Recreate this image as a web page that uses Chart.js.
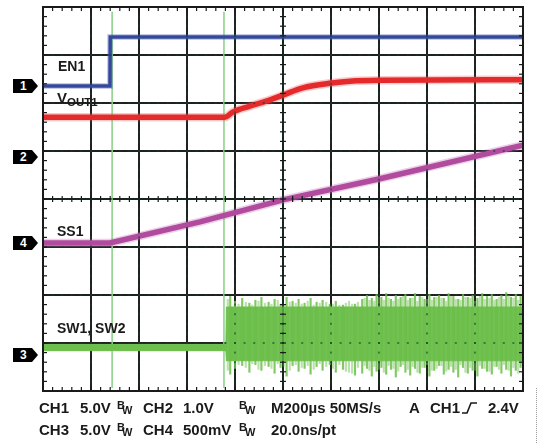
<!DOCTYPE html>
<html>
<head>
<meta charset="utf-8">
<script src="https://cdn.jsdelivr.net/npm/chart.js@4.4.1/dist/chart.umd.min.js"></script>
<style>
  body { margin: 0; background: #fff; }
  #wrap { position: relative; width: 538px; height: 443px; overflow: hidden;
          font-family: "Liberation Sans", Arial, sans-serif; font-weight: bold; color: #1a1a1a; }
  #scope { position: absolute; left: 0; top: 0; }
  .lbl { position: absolute; font-size: 14px; line-height: 14px; white-space: nowrap; }
  .st { position: absolute; font-size: 15px; line-height: 15px; white-space: nowrap; }
  .bw { position: absolute; font-size: 11px; line-height: 11px; }
  .mk { position: absolute; left: 13px; width: 25px; height: 14px; background: #000; color: #fff;
        font-size: 12px; line-height: 14px; text-indent: 7px;
        clip-path: polygon(0 0, 76% 0, 100% 50%, 76% 100%, 0 100%); }
  #fig { position: absolute; left: 536px; top: 388px; height: 55px; border-left: 1px dotted #9a9a9a; }
</style>
</head>
<body>
<div id="wrap">
  <canvas id="scope" width="538" height="443"></canvas>

  <div class="lbl" style="left:58px;top:59px">EN1</div>
  <div class="lbl" style="left:57px;top:91px;font-size:15px">V<span style="font-size:11.5px;position:relative;top:3px">OUT1</span></div>
  <div class="lbl" style="left:57px;top:224px">SS1</div>
  <div class="lbl" style="left:57px;top:321px">SW1, SW2</div>

  <div class="st" style="left:39px;top:400px">CH1</div>
  <div class="st" style="left:80px;top:400px">5.0V</div>
  <div class="bw" style="left:117px;top:400px">B</div><div class="bw" style="left:122px;top:405px">W</div>
  <div class="st" style="left:143px;top:400px">CH2</div>
  <div class="st" style="left:183px;top:400px">1.0V</div>
  <div class="bw" style="left:239px;top:400px">B</div><div class="bw" style="left:245px;top:405px">W</div>
  <div class="st" style="left:271px;top:400px">M200µs 50MS/s</div>
  <div class="st" style="left:409px;top:400px">A</div>
  <div class="st" style="left:430px;top:400px">CH1</div>
  <svg style="position:absolute;left:461px;top:401px" width="18" height="14">
    <polyline points="1,12 6,12 10,2 16,2" fill="none" stroke="#1a1a1a" stroke-width="1.6"/>
  </svg>
  <div class="st" style="left:488px;top:400px">2.4V</div>

  <div class="st" style="left:39px;top:422px">CH3</div>
  <div class="st" style="left:80px;top:422px">5.0V</div>
  <div class="bw" style="left:117px;top:422px">B</div><div class="bw" style="left:122px;top:427px">W</div>
  <div class="st" style="left:143px;top:422px">CH4</div>
  <div class="st" style="left:183px;top:422px">500mV</div>
  <div class="bw" style="left:239px;top:422px">B</div><div class="bw" style="left:245px;top:427px">W</div>
  <div class="st" style="left:271px;top:422px">20.0ns/pt</div>

  <div id="fig"></div>
</div>

<script>
// scope settings
const channelNames = ['CH1', 'CH2', 'CH3', 'CH4'];
const voltsPerDiv = [5.0, 1.0, 5.0, 0.5];
const channelOffsetDiv = [6.354, 4.875, 0.75, 3.083];   // ground marker, divisions from bottom
const markerOrder = ['1', '2', '4', '3'];

// time axis: 200us/div, 10 div
const timeMin = 0, timeMax = 2000;
const cursorTimes = [288, 754];

// CH1  EN1
const en1Time = [0, 279, 280, 2000];
const en1Volts = [0, 0, 5.1, 5.1];

// CH2  VOUT1
const vout1Time = [0, 758, 792, 862, 946, 1000, 1083, 1204, 1279, 1404, 2000];
const vout1Volts = [0.83, 0.83, 0.94, 1.06, 1.19, 1.29, 1.44, 1.54, 1.58, 1.60, 1.61];

// CH4  SS1
const ss1Time = [0, 279, 654, 1000, 1404, 2000];
const ss1Volts = [0, 0, 0.22, 0.45, 0.67, 1.02];

// CH3  SW1, SW2 envelope
const swTime = [0, 762, 764, 2000];
const swHigh = [1.1, 1.1, 5.0, 5.0];
const swLow = [0.45, 0.45, -0.6, -0.6];

// CH3 spikes (strong)
const spikeTime = [780, 800, 830, 860, 885, 910, 940, 965, 990, 1015, 1040, 1065, 1090, 1115, 1140,
  1165, 1195, 1220, 1250, 1300, 1330, 1350, 1370, 1390, 1410, 1430, 1450, 1470, 1490, 1510, 1530,
  1550, 1570, 1590, 1610, 1630, 1650, 1670, 1690, 1710, 1730, 1750, 1770, 1790, 1810, 1830, 1850,
  1870, 1890, 1910, 1930, 1950, 1970, 1990];
const spikeHigh = [6.1, 5.6, 5.9, 5.4, 5.7, 6.0, 5.5, 5.8, 5.3, 6.0, 5.6, 5.8, 5.4, 5.9, 5.5,
  5.7, 5.3, 5.6, 5.2, 5.3, 5.8, 6.2, 5.9, 6.3, 6.0, 6.4, 5.8, 6.2, 6.0, 6.3, 5.9,
  6.4, 6.1, 5.8, 6.3, 6.0, 6.2, 5.9, 6.4, 6.1, 5.8, 6.3, 6.0, 6.2, 5.9, 6.4, 6.1,
  6.3, 5.8, 6.2, 6.5, 6.0, 6.3, 6.1];
const spikeLow = [-2.0, -1.4, -1.1, -1.8, -1.0, -1.6, -1.2, -1.9, -1.3, -2.2, -1.1, -1.7, -1.4, -2.0, -1.2,
  -1.6, -1.0, -1.8, -1.5, -2.1, -1.9, -1.4, -2.2, -1.7, -1.3, -2.0, -1.5, -2.3, -1.2, -1.8, -2.1,
  -1.4, -1.9, -1.3, -2.2, -1.6, -1.1, -2.0, -1.5, -1.8, -2.3, -1.3, -1.9, -1.6, -2.2, -1.4, -1.7,
  -2.0, -1.2, -1.9, -1.5, -2.2, -1.6, -1.3];

// CH3 spikes (faint)
const faintTime = [770, 815, 845, 872, 898, 925, 952, 978, 1003, 1028, 1053, 1078, 1103, 1128, 1153,
  1180, 1208, 1235, 1262, 1275, 1288, 1312, 1340, 1360, 1380, 1400, 1420, 1440, 1460, 1480,
  1500, 1520, 1540, 1560, 1580, 1600, 1620, 1640, 1660, 1680, 1700, 1720, 1740, 1760, 1780,
  1800, 1820, 1840, 1860, 1880, 1900, 1920, 1940, 1960, 1980];
const faintHigh = [5.8, 5.3, 5.5, 5.2, 5.6, 5.4, 5.3, 5.7, 5.2, 5.5, 5.4, 5.3, 5.6, 5.2, 5.4,
  5.5, 5.3, 5.2, 5.4, 5.6, 5.3, 5.5, 5.9, 5.7, 5.6, 6.0, 5.7, 5.9, 5.6, 5.8,
  6.1, 5.7, 5.9, 5.6, 6.0, 5.8, 5.7, 6.0, 5.9, 5.6, 6.1, 5.8, 5.7, 6.0, 5.9,
  5.6, 6.1, 5.8, 5.9, 5.7, 6.0, 5.8, 6.2, 5.9, 5.7];
const faintLow = [-1.6, -1.0, -1.3, -0.9, -1.5, -1.1, -1.4, -0.9, -1.2, -1.6, -1.0, -1.3, -1.1, -1.5, -0.9,
  -1.2, -1.4, -1.0, -1.7, -1.8, -1.9, -1.3, -1.1, -1.6, -1.2, -1.5, -1.8, -1.1, -1.4, -1.7,
  -1.0, -1.5, -1.2, -1.8, -1.3, -1.0, -1.6, -1.4, -1.1, -1.7, -1.2, -1.5, -1.0, -1.8, -1.3,
  -1.6, -1.1, -1.4, -1.7, -1.2, -1.5, -1.0, -1.6, -1.3, -1.9];

const toDiv = (v, ch) => channelOffsetDiv[ch] + v / voltsPerDiv[ch];
const trace = (ts, vs, ch) => ts.map((t, i) => ({ x: t, y: toDiv(vs[i], ch) }));
const bars = (ts, lo, hi, ch) => ts.map((t, i) => ({ x: t, y: [toDiv(lo[i], ch), toDiv(hi[i], ch)] }));

const scopeFrame = {
  id: 'scopeFrame',
  afterDatasetsDraw(chart) {
    const { ctx, chartArea: a, scales: { x, y } } = chart;
    const line = (x1, y1, x2, y2) => { ctx.beginPath(); ctx.moveTo(x1, y1); ctx.lineTo(x2, y2); ctx.stroke(); };
    const cx = x.getPixelForValue((timeMin + timeMax) / 2);
    const cy = y.getPixelForValue(4);
    ctx.save();
    // graticule dots showing through the traces
    ctx.fillStyle = 'rgba(0,70,40,0.55)';
    x.ticks.forEach(tk => {
      const gx = x.getPixelForValue(tk.value);
      for (let j = 0; j <= 40; j++) ctx.fillRect(gx - 1, a.top + j * a.height / 40 - 1, 2, 2);
    });
    y.ticks.forEach(tk => {
      const gy = y.getPixelForValue(tk.value);
      for (let i = 0; i <= 50; i++) ctx.fillRect(a.left + i * a.width / 50 - 1, gy - 1, 2, 2);
    });
    ctx.strokeStyle = 'rgba(0,60,30,0.45)';
    ctx.lineWidth = 1.2;
    line(cx, a.top, cx, a.bottom);
    line(a.left, cy, a.right, cy);
    // minor ticks
    ctx.strokeStyle = '#1a1a1a';
    ctx.lineWidth = 1.2;
    for (let i = 1; i < 50; i++) {
      const px = a.left + i * a.width / 50;
      line(px, a.top, px, a.top + 4);
      line(px, a.bottom, px, a.bottom - 4);
      line(px, cy - 3, px, cy + 3);
    }
    for (let j = 1; j < 40; j++) {
      const py = a.top + j * a.height / 40;
      line(a.left, py, a.left + 4, py);
      line(a.right, py, a.right - 4, py);
      line(cx - 3, py, cx + 3, py);
    }
    ctx.lineWidth = 2;
    ctx.strokeRect(a.left, a.top, a.width, a.height);
    ctx.restore();
  }
};

const halo = (data, color, width, order) => ({ data, borderColor: color, borderWidth: width,
  pointRadius: 0, tension: 0, order });

const chart = new Chart(document.getElementById('scope'), {
  type: 'line',
  data: {
    datasets: [
      { label: 'EN1', data: trace(en1Time, en1Volts, 0), borderColor: '#34489c', borderWidth: 3.5,
        pointRadius: 0, tension: 0, order: 1 },
      halo(trace(en1Time, en1Volts, 0), 'rgba(70,90,170,0.3)', 6, 1.5),
      { label: 'VOUT1', data: trace(vout1Time, vout1Volts, 1), borderColor: '#e52a2c', borderWidth: 5.5,
        pointRadius: 0, cubicInterpolationMode: 'monotone', order: 2 },
      { ...halo(trace(vout1Time, vout1Volts, 1), 'rgba(235,80,80,0.3)', 8.5, 2.5), cubicInterpolationMode: 'monotone' },
      { label: 'SS1', data: trace(ss1Time, ss1Volts, 3), borderColor: '#b04b9e', borderWidth: 5.5,
        pointRadius: 0, tension: 0, order: 3 },
      halo(trace(ss1Time, ss1Volts, 3), 'rgba(190,100,180,0.3)', 8.5, 3.5),
      { type: 'bar', label: 'SW spikes', data: bars(spikeTime, spikeLow, spikeHigh, 2),
        backgroundColor: 'rgba(108,190,74,0.85)', barThickness: 1.5, grouped: false, order: 5 },
      { type: 'bar', label: 'SW spikes faint', data: bars(faintTime, faintLow, faintHigh, 2),
        backgroundColor: 'rgba(120,196,90,0.5)', barThickness: 1.5, grouped: false, order: 5.5 },
      { label: 'SW high', data: trace(swTime, swHigh, 2), borderColor: '#6dbf4b', borderWidth: 1,
        backgroundColor: '#6dbf4b', fill: '+1', pointRadius: 0, tension: 0, order: 6 },
      { label: 'SW low', data: trace(swTime, swLow, 2), borderColor: '#6dbf4b', borderWidth: 1,
        pointRadius: 0, tension: 0, order: 6 },
      ...cursorTimes.map(t => ({ label: 'cursor', data: [{ x: t, y: 0.06 }, { x: t, y: 7.9 }],
        borderColor: '#8fd48a', borderWidth: 1.6, pointRadius: 0, order: 7 }))
    ]
  },
  options: {
    responsive: false,
    animation: false,
    devicePixelRatio: 1,
    events: [],
    layout: { padding: { left: 43, right: 15, top: 7, bottom: 52 } },
    plugins: { legend: { display: false }, tooltip: { enabled: false } },
    scales: {
      x: { type: 'linear', min: timeMin, max: timeMax, offset: false,
           ticks: { display: false, stepSize: 200 },
           grid: { color: '#202020', lineWidth: 2, drawTicks: false, offset: false },
           border: { display: false } },
      y: { type: 'linear', min: 0, max: 8,
           ticks: { display: false, stepSize: 1 },
           grid: { color: '#202020', lineWidth: 2, drawTicks: false },
           border: { display: false } }
    }
  },
  plugins: [scopeFrame]
});

// channel ground markers
const wrap = document.getElementById('wrap');
markerOrder.forEach(name => {
  const ch = channelNames.indexOf('CH' + name);
  const py = chart.scales.y.getPixelForValue(channelOffsetDiv[ch]);
  const m = document.createElement('div');
  m.className = 'mk';
  m.style.top = Math.round(py - 7) + 'px';
  m.textContent = name;
  wrap.appendChild(m);
});
</script>
</body>
</html>
